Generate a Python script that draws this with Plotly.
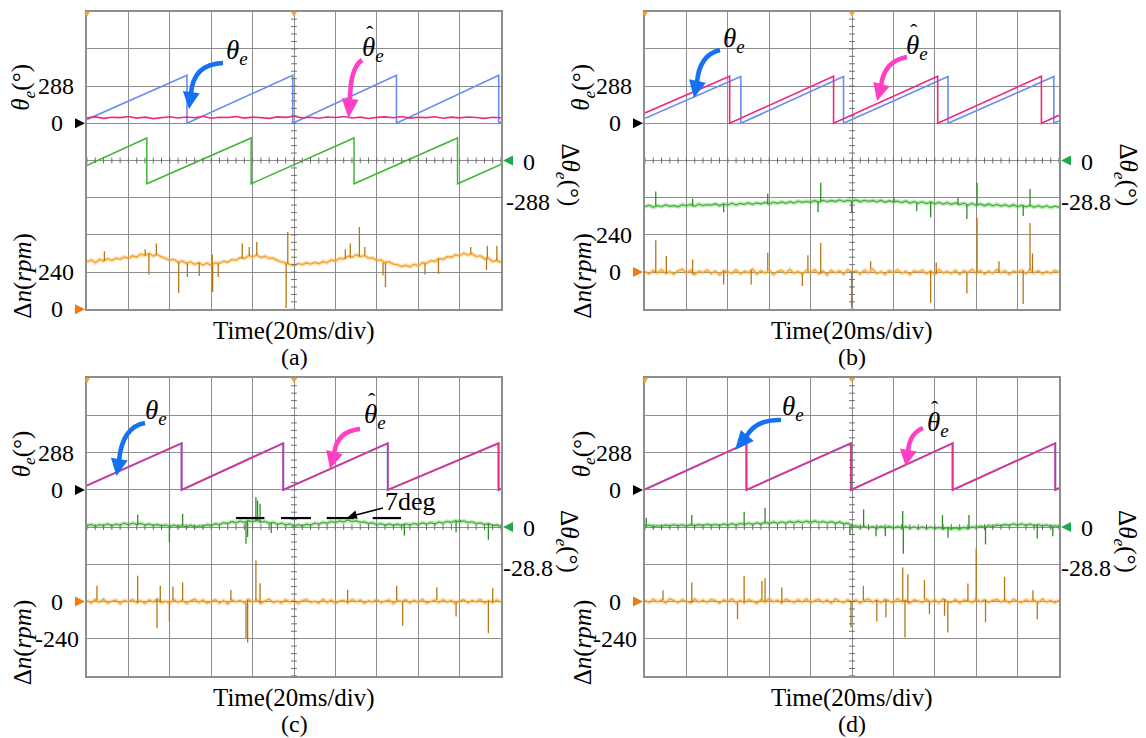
import numpy as np
import plotly.graph_objects as go

W, H = 1146, 738          # target page size
OFF = 8                   # browser body margin
FW, FH = W - OFF, H - OFF  # figure size

# ------------------------------------------------------------------
# DATA  (time in ms, 20 ms/div, 200 ms record)
# theta in deg, delta-theta in deg, delta-n in rpm
# ------------------------------------------------------------------
# ---- panel (a)
A_THETA_T = [0, 48.3, 48.3, 99.4, 99.4, 149.5, 149.5, 198.9, 198.9, 200]
A_THETA_V = [30, 372, 0, 372, 0, 372, 0, 372, 0, 10]
A_HAT_V = [42, 50, 38, 47, 44, 53, 40, 48, 36, 46, 51, 41, 49, 43, 55, 39, 47, 45, 52, 40,
           48, 44, 38, 50, 46, 54, 42, 47, 39, 49, 45, 52, 41, 48, 37, 46, 50, 43, 53, 40,
           47, 44, 51, 39, 48, 42, 49, 45, 38, 47, 43]
A_DTH_T = [0, 28.9, 28.9, 79.3, 79.3, 129.0, 129.0, 179.0, 179.0, 200]
A_DTH_V = [-38, 174, -180, 174, -180, 174, -180, 174, -180, -30]
A_DN = [305, 318, 300, 322, 312, 326, 315, 330, 322, 338, 328, 345, 336, 356, 347, 360, 344, 352,
        338, 330, 318, 322, 305, 312, 296, 306, 290, 300, 286, 298, 284, 300, 296, 310, 304, 322,
        316, 334, 328, 346, 338, 350, 334, 342, 328, 330, 314, 306, 296, 290, 282, 296, 288, 300,
        292, 302, 294, 308, 300, 318, 312, 330, 324, 342, 336, 352, 340, 346, 330, 332, 316, 318,
        302, 306, 292, 288, 276, 284, 274, 290, 282, 300, 296, 314, 310, 328, 322, 340, 336, 352,
        344, 362, 350, 358, 340, 346, 326, 330, 308, 316, 300]
A_DN_SPK_T = [8.4, 28.1, 29.9, 33.5, 44.3, 48.5, 54.2, 60.5, 60.7, 63.4, 75, 78.4, 82, 96.2, 97,
              124.8, 127.2, 131.6, 134.2, 143, 144.2, 163.3, 169.8, 185.4, 193, 193.4, 198]
A_DN_SPK_V = [374, 387, 224, 424, 105, 208, 215, 353, 112, 208, 424, 402, 435, 8, 499,
              387, 424, 531, 402, 219, 144, 224, 230, 402, 253, 410, 410]

# ---- panel (b)
B_THETA_T = [0, 46.3, 46.3, 95.9, 95.9, 146.4, 146.4, 197.5, 197.5, 200]
B_THETA_V = [38, 362, 0, 362, 0, 362, 0, 362, 0, 18]
B_HAT_T = [0, 40.9, 40.9, 91.1, 91.1, 141.4, 141.4, 191.5, 191.5, 200]
B_HAT_V = [80, 365, 0, 365, 0, 365, 0, 365, 0, 62]
B_DTH = [-35.8, -34.6, -36.3, -35.0, -35.7, -34.4, -35.5, -34.9, -35.8, -34.2, -35.1, -34.0,
         -35.4, -33.8, -34.9, -34.1, -34.6, -33.5, -35.0, -33.6, -34.5, -33.1, -34.4, -33.3,
         -33.9, -32.8, -34.0, -32.9, -33.6, -32.5, -33.7, -32.3, -33.2, -32.0, -33.1, -31.9,
         -32.9, -31.5, -32.4, -31.6, -32.4, -31.0, -32.2, -30.9, -31.8, -31.0, -31.7, -30.5,
         -31.8, -30.8, -31.5, -30.6, -31.9, -30.9, -31.7, -31.0, -32.0, -30.8, -32.3, -31.2,
         -32.1, -31.5, -32.6, -31.4, -32.9, -31.8, -33.0, -32.0, -33.3, -32.1, -33.5, -32.4,
         -33.7, -32.6, -34.0, -32.9, -34.2, -33.1, -34.5, -33.2, -34.7, -33.6, -35.0, -33.7,
         -35.1, -34.0, -35.3, -34.2, -35.6, -34.3, -35.8, -34.6, -35.9, -34.8, -36.2, -35.0,
         -36.3, -35.1, -36.5, -35.3, -36.2]
B_DTH_SPK_T = [5.2, 23, 38, 59.3, 83.6, 84.9, 99.8, 120.3, 131.3, 138, 151.2, 155.5, 160.4, 182.7, 186]
B_DTH_SPK_V = [-24, -29.6, -40, -25.8, -40, -17.3, -40, -28.4, -39, -43.9, -29, -45.2, -17.3, -43, -22]
B_DN = [4, -12, 10, -6, 15, -9, 3, -14, 8, 18, -5, 11, -16, 6, -3, 13, -10, 7, -18, 9,
        2, -8, 14, -11, 5, -4, 17, -13, 8, -6, 12, -15, 3, 10, -9, 16, -7, 4, -12, 9,
        -3, 14, -10, 6, -17, 11, -5, 8, -13, 15, -2, 7, -11, 12, -6, 18, -9, 3, -14, 10,
        -4, 13, -8, 6, -16, 9, -1, 12, -10, 7, -13, 15, -5, 4, -9, 11, -14, 8, -3, 16,
        -7, 10, -12, 5, -8, 14, -4, 9, -15, 6, -2, 11, -10, 13, -6, 8, -11, 4, -7, 10, -3]
B_DN_SPK_T = [5.2, 10.3, 23, 38, 51.3, 59.3, 76, 78.7, 84.9, 99.8, 109, 138, 140.7, 155.5,
              160.4, 171, 182.7, 186, 187.2]
B_DN_SPK_V = [205, 104, 82, -80, -80, 125, -90, 109, 188, -230, 70, -198, 62, -138,
              351, 70, -205, 316, 120]

# ---- panel (c)
C_THETA_T = [0, 45.7, 45.7, 94.8, 94.8, 145.3, 145.3, 198.8, 198.8, 200]
C_THETA_V = [33, 361, 0, 361, 0, 361, 0, 361, 0, 9]
C_HAT_V = [35, 362, 0, 362, 0, 362, 0, 362, 0, 10]
C_DTH = [1.0, 2.1, 0.6, 1.9, 1.2, 2.5, 1.0, 2.3, 1.6, 3.0, 1.8, 3.1, 2.0, 2.9, 1.5, 2.4, 1.1,
         2.0, 0.8, 1.7, 0.4, 1.5, 0.3, 1.2, 0.2, 1.4, 0.1, 1.0, 0.5, 1.8, 1.2, 2.6, 2.0, 3.4,
         2.8, 4.3, 3.4, 4.6, 3.7, 5.0, 4.0, 5.1, 3.8, 4.4, 3.0, 3.6, 2.2, 3.0, 1.8, 2.4, 1.0,
         1.9, 0.9, 2.2, 1.6, 3.0, 2.3, 3.7, 3.0, 4.4, 3.5, 4.8, 4.0, 5.4, 4.3, 5.0, 3.6, 4.1,
         2.8, 3.2, 2.0, 2.7, 1.5, 2.4, 1.3, 2.2, 1.4, 2.5, 1.7, 2.9, 2.0, 3.2, 2.4, 3.5, 2.6,
         3.9, 3.1, 4.4, 3.6, 4.9, 4.0, 4.8, 3.5, 4.0, 2.7, 3.3, 2.1, 2.6, 1.2, 1.6, 0.4]
C_DTH_SPK_T = [24.5, 39.8, 46.2, 76.8, 77.6, 81.6, 82.4, 83.6, 89, 153.3, 178.3, 180.3, 193.9]
C_DTH_SPK_V = [9.8, -11.6, 10.3, -12.9, -7.7, 23.2, 20.6, 18, -4.6, -6.5, -3.9, 5.7, -9.8]
C_DN = [6, -9, 12, -4, 15, -11, 3, 9, -14, 7, -2, 13, -8, 5, -12, 10, -3, 16, -7, 2,
        -10, 11, -5, 8, -13, 4, 14, -6, 9, -11, 1, 12, -9, 6, -15, 10, -2, 7, -8, 13,
        -4, 9, -12, 5, 15, -7, 3, -10, 11, -3, 8, -14, 6, 12, -5, 2, -9, 14, -6, 10,
        -12, 4, 7, -8, 13, -2, 9, -11, 5, -4, 12, -7, 3, 10, -13, 6, -1, 11, -9, 8,
        -5, 14, -10, 2, 9, -6, 12, -3, 7, -12, 4, 11, -8, 6, -2, 13, -9, 5, -6, 10, -4]
C_DN_SPK_T = [4.8, 24.5, 33.8, 35.4, 39.8, 41.5, 46.2, 69.5, 76.8, 77.6, 81.6, 83.6, 125.9,
              149.6, 152.5, 169, 178.3, 193.9, 196]
C_DN_SPK_V = [101, 166, -172, 101, -129, 97, 123, 75, -236, -264, 264, 118, 75,
              101, -157, 92, -97, -204, 86]
C_LIMIT_T = [72.0, 85.7, 93.7, 108.2, 115.8, 129.1, 138.0, 151.7]   # dashed 7deg marker
C_LIMIT_DEG = 7

# ---- panel (d)
D_THETA_T = [0, 49.0, 49.0, 99.5, 99.5, 148.6, 148.6, 198.2, 198.2, 200]
D_THETA_V = [3, 361, 0, 361, 0, 361, 0, 361, 0, 13]
D_HAT_V = [4, 362, 0, 362, 0, 362, 0, 362, 0, 14]
D_DTH = [0.6, 1.5, 0.3, 1.2, 0.5, 1.6, 0.8, 1.9, 0.9, 1.7, 0.7, 1.8, 1.0, 2.0, 1.1, 2.2, 1.3,
         2.1, 1.2, 2.4, 1.5, 2.6, 1.6, 2.8, 1.9, 3.0, 2.1, 3.3, 2.4, 3.6, 2.7, 3.9, 2.9, 4.0,
         3.1, 4.3, 3.3, 4.5, 3.5, 4.6, 3.6, 4.7, 3.5, 4.4, 3.3, 4.2, 3.0, 3.9, 2.6, 3.0, 1.2,
         1.0, -0.3, 0.6, -0.5, 0.4, -0.6, 0.5, -0.4, 0.6, -0.7, 0.3, -0.6, 0.4, -0.8, 0.2,
         -0.9, 0.1, -1.0, 0.0, -1.2, -0.2, -1.3, -0.4, -1.5, -0.6, -1.6, -0.3, -1.0, 0.2,
         -0.6, 0.7, 0.0, 1.2, 0.4, 1.6, 0.9, 2.0, 1.3, 2.4, 1.6, 2.5, 1.4, 2.2, 1.1, 1.9, 0.8,
         1.6, 0.4, 1.2, 0.3]
D_DTH_SPK_T = [0.6, 22.6, 47.9, 58, 99, 105.6, 111.6, 116.1, 124.5, 124.8, 143.7, 146.4,
               156.5, 164.5, 189.5, 197]
D_DTH_SPK_V = [7.2, 9.3, 11.9, 15, -5.7, 13.7, -7, -7, 12.4, -20.6, 9.3, -8.3,
               9.3, -13.4, -8.8, -7]
D_DN = [8, -6, 14, -2, 10, -9, 17, 4, -7, 12, 1, -10, 15, -3, 9, -5, 13, 6, -11, 10,
        -1, 16, -6, 7, -8, 12, 3, -12, 11, -4, 18, -2, 8, -9, 14, 5, -7, 11, -3, 15,
        -8, 6, 13, -5, 9, -10, 16, 2, -6, 12, -2, 10, -11, 7, 15, -4, 9, -7, 13, 3,
        -9, 17, -1, 8, -12, 11, 4, -6, 14, -3, 10, -8, 16, 1, -5, 12, -10, 9, 5, -7,
        15, -2, 11, -6, 8, 13, -4, 10, -9, 14, 2, -7, 12, -1, 9, -5, 16, -3, 7, -8, 10]
D_DN_SPK_T = [8.7, 22.6, 44.7, 47.9, 56.5, 58, 66.1, 99.5, 105.5, 112, 116.4, 124.5, 125.6,
              127, 135, 137.4, 144.7, 146.3, 156, 160, 164.5, 173.7, 187.4, 189.5]
D_DN_SPK_V = [73, 123, -114, 166, 133, 150, 90, -168, 101, -129, -103, 219, -232,
              176, 138, -82, -92, -200, 116, 342, -135, 159, 73, -114]

# ------------------------------------------------------------------
# oscilloscope vertical settings per panel
# ------------------------------------------------------------------
PANELS = [
    dict(name='a', L=87, T=11.7, dth_lbl='-288', dn_zero=0, dn_lbl='240', dn_lbl_div=1),
    dict(name='b', L=645, T=11.7, dth_lbl='-28.8', dn_zero=1, dn_lbl='240', dn_lbl_div=2),
    dict(name='c', L=87, T=378.3, dth_lbl='-28.8', dn_zero=2, dn_lbl='-240', dn_lbl_div=1),
    dict(name='d', L=645, T=378.3, dth_lbl='-28.8', dn_zero=2, dn_lbl='-240', dn_lbl_div=1),
]
TH_ZERO, TH_DIV = 5, 288
DTH_ZERO = 4
DN_DIV = 240
PW, PH = 414, 297.6
NX, NY = 10, 8

C_BLUE = '#6b8cf2'
C_MAG = '#f02a80'
C_GREEN = '#3fb734'
C_GREEN_DK = '#2a8f20'
C_ORANGE = '#f2a22a'
C_ORANGE_DK = '#b87612'
FONT = 'Liberation Serif'

fig = go.Figure()


def px(x, y):
    return (x - OFF) / FW, 1 - (y - OFF) / FH


def ax_ids(i):
    s = '' if i == 0 else str(i + 1)
    return 'x' + s, 'y' + s


def add_line(i, t, v, color, width, opacity=1.0):
    xa, ya = ax_ids(i)
    fig.add_trace(go.Scatter(x=t, y=v, mode='lines', line=dict(color=color, width=width),
                             opacity=opacity, xaxis=xa, yaxis=ya, hoverinfo='skip',
                             showlegend=False))


def noisy(i, values, zero, per_div, color, dark, spk_t, spk_v):
    t = np.linspace(0, 200, len(values))
    yv = zero + np.asarray(values, float) / per_div
    add_line(i, t, yv, color, 4.2, 0.3)
    add_line(i, t, yv, color, 1.3)
    sx, sy = [], []
    for st, sv in zip(spk_t, spk_v):
        base = yv[int(round(st / 200 * (len(values) - 1)))]
        sx += [st, st, None]
        sy += [base, zero + sv / per_div, None]
    add_line(i, sx, sy, dark, 1.3)


def saw(i, t, v, zero, per_div, color, width):
    add_line(i, t, [zero + a / per_div for a in v], color, width)


# ---------------- panel traces
saw(0, A_THETA_T, A_THETA_V, TH_ZERO, TH_DIV, C_BLUE, 1.6)
t_hat = np.linspace(0, 200, len(A_HAT_V))
add_line(0, t_hat, TH_ZERO + np.asarray(A_HAT_V) / TH_DIV, C_MAG, 1.6)
saw(0, A_DTH_T, A_DTH_V, DTH_ZERO, 288, C_GREEN, 1.5)
noisy(0, A_DN, 0, DN_DIV, C_ORANGE, C_ORANGE_DK, A_DN_SPK_T, A_DN_SPK_V)

saw(1, B_THETA_T, B_THETA_V, TH_ZERO, TH_DIV, C_BLUE, 1.6)
saw(1, B_HAT_T, B_HAT_V, TH_ZERO, TH_DIV, C_MAG, 1.6)
noisy(1, B_DTH, DTH_ZERO, 28.8, C_GREEN, C_GREEN_DK, B_DTH_SPK_T, B_DTH_SPK_V)
noisy(1, B_DN, 1, DN_DIV, C_ORANGE, C_ORANGE_DK, B_DN_SPK_T, B_DN_SPK_V)

saw(2, C_THETA_T, C_THETA_V, TH_ZERO, TH_DIV, C_BLUE, 2.1)
saw(2, C_THETA_T, C_HAT_V, TH_ZERO, TH_DIV, C_MAG, 1.6)
noisy(2, C_DTH, DTH_ZERO, 28.8, C_GREEN, C_GREEN_DK, C_DTH_SPK_T, C_DTH_SPK_V)
noisy(2, C_DN, 2, DN_DIV, C_ORANGE, C_ORANGE_DK, C_DN_SPK_T, C_DN_SPK_V)
lx, ly = [], []
for k in range(0, len(C_LIMIT_T), 2):
    lx += [C_LIMIT_T[k], C_LIMIT_T[k + 1], None]
    ly += [DTH_ZERO + C_LIMIT_DEG / 28.8] * 2 + [None]
add_line(2, lx, ly, 'black', 2.2)

saw(3, D_THETA_T, D_THETA_V, TH_ZERO, TH_DIV, C_BLUE, 2.1)
saw(3, D_THETA_T, D_HAT_V, TH_ZERO, TH_DIV, C_MAG, 1.6)
noisy(3, D_DTH, DTH_ZERO, 28.8, C_GREEN, C_GREEN_DK, D_DTH_SPK_T, D_DTH_SPK_V)
noisy(3, D_DN, 2, DN_DIV, C_ORANGE, C_ORANGE_DK, D_DN_SPK_T, D_DN_SPK_V)

# ---------------- graticule centre ticks
for i in range(4):
    gx, gy = [], []
    for k in range(NY * 5 + 1):
        gx += [100 - 1.4, 100 + 1.4, None]
        gy += [k / 5, k / 5, None]
    for k in range(NX * 5 + 1):
        gx += [k * 4, k * 4, None]
        gy += [4 - 0.08, 4 + 0.08, None]
    add_line(i, gx, gy, '#6e6e6e', 1)

# ---------------- axes, labels
layout = dict(width=FW, height=FH, autosize=False, margin=dict(l=0, r=0, t=0, b=0, pad=0),
              paper_bgcolor='white', plot_bgcolor='white', showlegend=False)
shapes, annos = [], []


def txt(x, y, text, size=24, xanchor='center', angle=0, color='black'):
    xx, yy = px(x, y)
    annos.append(dict(x=xx, y=yy, xref='paper', yref='paper', text=text, showarrow=False,
                      xanchor=xanchor, yanchor='middle', textangle=angle,
                      font=dict(family=FONT, size=size, color=color)))


def tri(xtip, y, direction, color, w=10, h=10):
    if direction == 'right':
        pts = [(xtip - w, y - h / 2), (xtip - w, y + h / 2), (xtip, y)]
    elif direction == 'left':
        pts = [(xtip + w, y - h / 2), (xtip + w, y + h / 2), (xtip, y)]
    else:
        pts = [(xtip - w / 2, y - h), (xtip + w / 2, y - h), (xtip, y)]
    path = 'M ' + ' L '.join('%.5f,%.5f' % px(a, b) for a, b in pts) + ' Z'
    shapes.append(dict(type='path', path=path, xref='paper', yref='paper',
                       fillcolor=color, line=dict(width=0)))


for i, p in enumerate(PANELS):
    s = '' if i == 0 else str(i + 1)
    x0, y1 = px(p['L'], p['T'])
    x1, y0 = px(p['L'] + PW, p['T'] + PH)
    common = dict(showgrid=True, gridcolor='#8e8e8e', gridwidth=1.3, zeroline=False,
                  showticklabels=False, ticks='', showline=True, mirror=True,
                  linecolor='#8e8e8e', linewidth=1.6, fixedrange=True)
    layout['xaxis' + s] = dict(domain=[x0, x1], range=[0, 200], dtick=20, tick0=0,
                               anchor='y' + s, **common)
    layout['yaxis' + s] = dict(domain=[y0, y1], range=[0, 8], dtick=1, tick0=0,
                               anchor='x' + s, **common)

    L, T = p['L'], p['T']
    R, B = L + PW, T + PH
    dy = PH / NY

    def yat(div):
        return B - div * dy

    txt(L - 11, yat(TH_ZERO + 1), '288', xanchor='right')
    txt(L - 22, yat(TH_ZERO), '0', xanchor='right')
    tri(L - 2, yat(TH_ZERO), 'right', 'black')
    txt(L - 22, yat(p['dn_zero']), '0', xanchor='right')
    tri(L - 2, yat(p['dn_zero']), 'right', '#f07a12')
    txt(L - 6 if p['dn_lbl'][0] == '-' else L - 11, yat(p['dn_lbl_div']), p['dn_lbl'],
        xanchor='right')
    lab_x = L - 64 if p['name'] in 'ac' else L - 62
    txt(lab_x, T + 76, '<i>θ</i><sub><i>e</i></sub>(°)', size=25, angle=-90)
    txt(lab_x, T + 264, 'Δ<i>n</i>(<i>rpm</i>)', size=25, angle=-90)

    tri(R + 2, yat(DTH_ZERO), 'left', '#1fa84e', w=10, h=10)
    txt(R + 28, yat(DTH_ZERO) + 1, '0')
    txt(R + 27, yat(DTH_ZERO) + 41, p['dth_lbl'])
    txt(R + 67, yat(DTH_ZERO) + 14, 'Δ<i>θ</i><sub><i>e</i></sub>(°)', size=25, angle=90)

    tri(L, T + 5, 'down', '#f5a040', w=6, h=5)
    tri(L + PW / 2, T + 5, 'down', '#f5a040', w=6, h=5)

    txt(L + PW / 2, B + 22, 'Time(20ms/div)', size=25)
    txt(L + PW / 2, B + 48, '(%s)' % p['name'], size=24)


# ---------------- curved arrows
def curved_arrow(p0, c, p1, tip, color, width=4.6, head_w=17):
    path = 'M %.5f,%.5f Q %.5f,%.5f %.5f,%.5f' % (*px(*p0), *px(*c), *px(*p1))
    shapes.append(dict(type='path', path=path, xref='paper', yref='paper',
                       line=dict(color=color, width=width)))
    d = np.array(tip, float) - np.array(p1, float)
    d /= np.linalg.norm(d)
    n = np.array([-d[1], d[0]])
    a = np.array(p1) + n * head_w / 2 - d * 2
    b = np.array(p1) - n * head_w / 2 - d * 2
    pts = [a, b, np.array(tip)]
    pth = 'M ' + ' L '.join('%.5f,%.5f' % px(q[0], q[1]) for q in pts) + ' Z'
    shapes.append(dict(type='path', path=pth, xref='paper', yref='paper',
                       fillcolor=color, line=dict(width=0)))


BLUE_ARROW = '#1670f2'
PINK_ARROW = '#ff3ec4'
curved_arrow((223, 63), (193, 64), (191, 94), (189, 109), BLUE_ARROW)
curved_arrow((362, 60), (350, 68), (350, 101), (348.5, 118), PINK_ARROW)
curved_arrow((720, 50), (699, 55), (697, 83), (694, 98), BLUE_ARROW)
curved_arrow((907, 57), (884, 61), (881, 86), (877, 101), PINK_ARROW)
curved_arrow((145, 423), (122, 427), (119, 461), (116.5, 476), BLUE_ARROW)
curved_arrow((360, 429), (337, 431), (334, 454), (330, 469), PINK_ARROW)
curved_arrow((781, 420), (756, 419), (746, 437), (735, 450), BLUE_ARROW)
curved_arrow((923, 428), (909, 434), (908, 452), (905.5, 466), PINK_ARROW)

TH = '<i>θ</i><sub><i>e</i></sub>'


def sym(x, y, hat=False):
    txt(x, y, TH, size=27)
    if hat:
        txt(x - 3, y - 16, 'ˆ', size=22)


sym(237, 52)
sym(373, 49, True)
sym(734, 40)
sym(917, 47, True)
sym(156, 412)
sym(375, 416, True)
sym(793, 408)
sym(938, 424, True)

# 7deg annotation
tx, ty = px(348, 517)
annos.append(dict(x=tx, y=ty, xref='paper', yref='paper', text='7deg', showarrow=True,
                  ax=62, ay=-16, arrowhead=2, arrowsize=1.1, arrowwidth=1.6, arrowcolor='black',
                  xanchor='center', yanchor='middle',
                  font=dict(family=FONT, size=26, color='black')))

layout['shapes'] = shapes
layout['annotations'] = annos
fig.update_layout(**layout)
fig.write_html('out.html')
